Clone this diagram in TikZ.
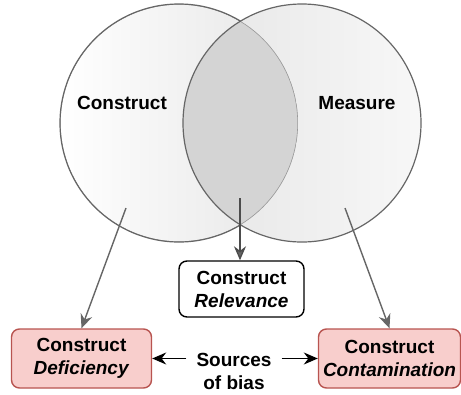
\documentclass[tikz,border=0pt]{standalone}
\usepackage{fontspec}
\setmainfont{Liberation Sans}
\usetikzlibrary{arrows.meta}

\definecolor{biasfill}{HTML}{F8CECC}
\definecolor{biasline}{HTML}{B85450}
\definecolor{venngray}{HTML}{666666}

\begin{document}
\begin{tikzpicture}[x=1pt, y=-1pt,
    font=\fontsize{19}{23}\selectfont\bfseries,
    box/.style={draw, rounded corners=8pt, line width=1.4pt,
        align=center, inner sep=0pt},
    relbox/.style={box, fill=white, minimum width=125pt, minimum height=56pt},
    biasbox/.style={box, draw=biasline, fill=biasfill,
        minimum width=140pt, minimum height=59pt},
    pointer/.style={draw=venngray, line width=1.4pt,
        -{Stealth[length=14pt, width=12pt, fill=venngray]}},
    biasarrow/.style={line width=1.4pt,
        -{Stealth[length=14pt, width=12pt]}},
]
    \useasboundingbox (0,0) rectangle (461,394);
    % Draw the two sets
    \shade[left color=white, right color=black!10] (179,123) circle[radius=119];
    \shade[left color=black!10, right color=white!97!black] (302,123) circle[radius=119];
    \begin{scope}
        \clip (179,123) circle[radius=119];
        \fill[black!17] (302,123) circle[radius=119];
        \draw[black!40, line width=1.2pt] (179,123) circle[radius=119];
    \end{scope}
    \begin{scope}
        \clip (302,123) circle[radius=119] (0,0) rectangle (461,394);
        \draw[venngray, line width=1.2pt] (179,123) circle[radius=119];
    \end{scope}
    \draw[venngray, line width=1.2pt] (302,123) circle[radius=119];
    \node (construct) at (122,103) {Construct};
    \node (measure) at (357,103) {Measure};
    % the arrows start inside the sets
    \coordinate (defstart) at (126,208);
    \coordinate (relstart) at (240,198);
    \coordinate (constart) at (345,208);
    \node[relbox] (relevance) at (241.5,289) {Construct\\\textit{Relevance}};
    \node[biasbox] (deficiency) at (81.5,358.5) {Construct\\\textit{Deficiency}};
    \node[biasbox, minimum width=142pt] (contamination) at (389.5,358.5)
        {Construct\\\textit{Contamination}};
    \node[align=center, inner sep=10pt] (sources) at (234,371) {Sources\\of bias};
    \draw[pointer, draw=black!70] (relstart) -- (relstart |- relevance.north);
    \draw[pointer] (defstart) -- (deficiency.north);
    \draw[pointer] (constart) -- (contamination.north);
    \draw[biasarrow] (sources.west |- deficiency.east) -- (deficiency.east);
    \draw[biasarrow] (sources.east |- contamination.west) -- (contamination.west);
\end{tikzpicture}
\end{document}
